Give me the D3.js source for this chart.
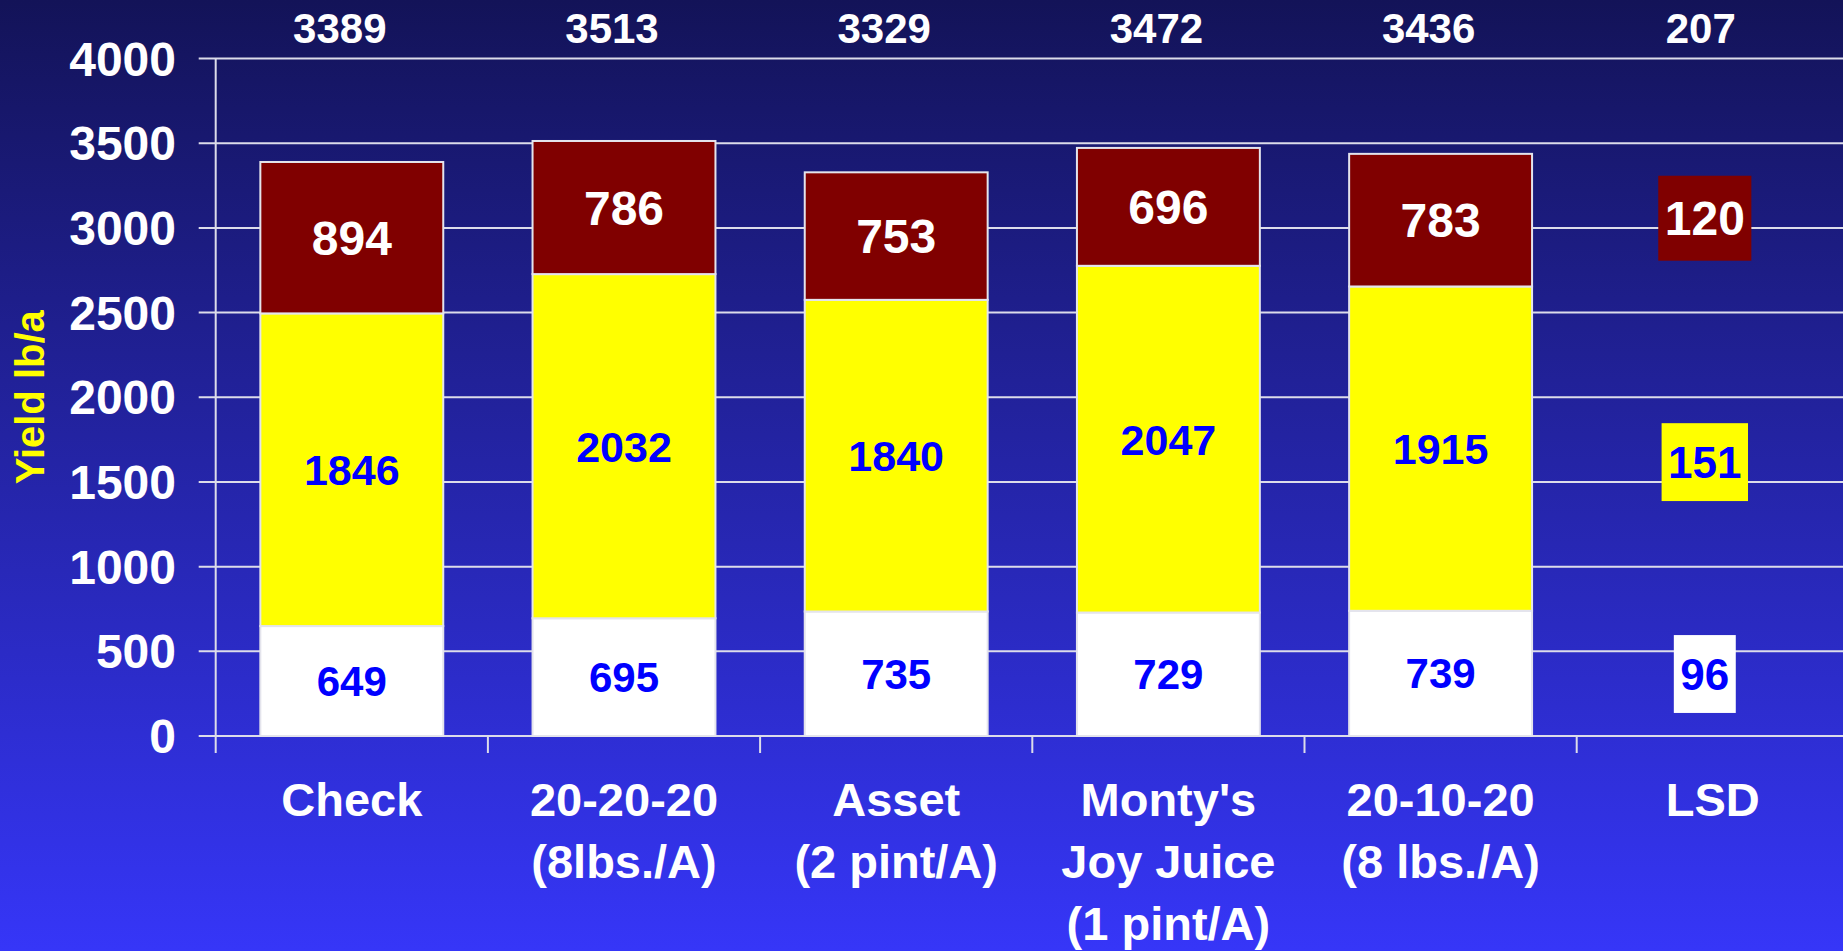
<!DOCTYPE html>
<html>
<head>
<meta charset="utf-8">
<script src="https://cdn.jsdelivr.net/npm/d3@7"></script>
<style>
  html, body { margin: 0; padding: 0; overflow: hidden; background: #141459; }
  svg { display: block; font-family: "Liberation Sans", Arial, sans-serif; font-weight: bold; }
</style>
</head>
<body>
<svg id="chart"></svg>
<script>
// categories and their label lines
const categories = ["Check", "20-20-20", "Asset", "Monty's", "20-10-20", "LSD"];
const catLines = [
  ["Check"],
  ["20-20-20", "(8lbs./A)"],
  ["Asset", "(2 pint/A)"],
  ["Monty's", "Joy Juice", "(1 pint/A)"],
  ["20-10-20", "(8 lbs./A)"],
  ["LSD"]
];

// yield lb/a, stacked from bottom to top
const lowVals = [649, 695, 735, 729, 739];
const midVals = [1846, 2032, 1840, 2047, 1915];
const topVals = [894, 786, 753, 696, 783];
const totals = [3389, 3513, 3329, 3472, 3436, 207];

// LSD for each layer (low, mid, top) and the yield level where each box sits
const lsdVals = [96, 151, 120];
const lsdAt = [366, 1617, 3057];

const yTicks = [0, 500, 1000, 1500, 2000, 2500, 3000, 3500, 4000];

// dimensions
const W = 1843, H = 951;
const axisX = 215.7, step = 272.2;

// couleurs des couches
const fills = ["#ffffff", "#ffff00", "#800000"];
const textFill = ["#0000ff", "#0000ff", "#ffffff"];
const labelSize = [42, 43, 48];
const lsdSize = [44, 44, 48];

const svg = d3.select("#chart").attr("width", W).attr("height", H);

const grad = svg.append("defs").append("linearGradient")
  .attr("id", "bg").attr("x1", 0).attr("y1", 0).attr("x2", 0).attr("y2", 1);
grad.append("stop").attr("offset", "0%").attr("stop-color", "#131358");
grad.append("stop").attr("offset", "100%").attr("stop-color", "#3636f8");
svg.append("rect").attr("width", W).attr("height", H).attr("fill", "url(#bg)");

const x = d3.scaleBand().domain(categories).range([axisX, axisX + step * categories.length]);
const y = d3.scaleLinear().domain([0, 4000]).range([736, 58.5]);

// grid lines (the part left of the axis acts as tick)
svg.append("g").selectAll("line")
  .data(yTicks).enter().append("line")
  .attr("x1", axisX - 17).attr("x2", W)
  .attr("y1", d => y(d)).attr("y2", d => y(d))
  .attr("stroke", "#dcdcea").attr("stroke-width", 2);

// y axis line
svg.append("line")
  .attr("x1", axisX).attr("x2", axisX)
  .attr("y1", y(4000)).attr("y2", y(0) + 17)
  .attr("stroke", "#dcdcea").attr("stroke-width", 2);

// x ticks between categories
svg.append("g").selectAll("line")
  .data(categories.slice(1)).enter().append("line")
  .attr("x1", d => x(d)).attr("x2", d => x(d))
  .attr("y1", y(0)).attr("y2", y(0) + 17)
  .attr("stroke", "#dcdcea").attr("stroke-width", 2);

// y tick labels
svg.append("g").selectAll("text")
  .data(yTicks).enter().append("text")
  .attr("x", 176).attr("y", d => y(d) + 17)
  .attr("text-anchor", "end")
  .attr("font-size", 48).attr("fill", "#ffffff")
  .text(d => d);

// axis title
svg.append("text")
  .attr("transform", "translate(44," + (y(0) + y(4000)) / 2 + ") rotate(-90)")
  .attr("text-anchor", "middle")
  .attr("font-size", 40).attr("fill", "#ffff00")
  .text("Yield lb/a");

// category labels
const catG = svg.append("g").selectAll("text")
  .data(categories).enter().append("text")
  .attr("text-anchor", "middle")
  .attr("font-size", 47).attr("fill", "#ffffff");
catG.selectAll("tspan")
  .data((d, i) => catLines[i].map(t => ({ t: t, c: d })))
  .enter().append("tspan")
  .attr("x", d => x(d.c) + x.bandwidth() / 2)
  .attr("y", (d, j) => 816 + j * 62)
  .text(d => d.t);

// totals on top
svg.append("g").selectAll("text")
  .data(totals).enter().append("text")
  .attr("x", (d, i) => x(categories[i]) + x.bandwidth() / 2 - 12)
  .attr("y", 43)
  .attr("text-anchor", "middle")
  .attr("font-size", 42).attr("fill", "#ffffff")
  .text(d => d);

// stacked bars
const rows = lowVals.map((v, i) => ({ cat: categories[i], low: v, mid: midVals[i], top: topVals[i] }));
const keys = ["low", "mid", "top"];
const stack = d3.stack().keys(keys)(rows);
const barW = x.bandwidth() * 0.672;

const layer = svg.append("g").selectAll("g")
  .data(stack).enter().append("g");

layer.selectAll("rect")
  .data((s, k) => s.map(d => ({ d: d, k: k })))
  .enter().append("rect")
  .attr("x", p => x(p.d.data.cat) + (x.bandwidth() - barW) / 2)
  .attr("width", barW)
  .attr("y", p => y(p.d[1]))
  .attr("height", p => y(p.d[0]) - y(p.d[1]))
  .attr("fill", p => fills[p.k])
  .attr("stroke", "#e4e4ec").attr("stroke-width", 2);

layer.selectAll("text")
  .data((s, k) => s.map(d => ({ d: d, k: k })))
  .enter().append("text")
  .attr("x", p => x(p.d.data.cat) + x.bandwidth() / 2)
  .attr("y", p => (y(p.d[0]) + y(p.d[1])) / 2 + labelSize[p.k] * 0.358)
  .attr("text-anchor", "middle")
  .attr("font-size", p => labelSize[p.k])
  .attr("fill", p => textFill[p.k])
  .text(p => p.d[1] - p.d[0]);

// LSD boxes
const lsdX = x("LSD") + x.bandwidth() / 2 - 8;
const lsdG = svg.append("g").selectAll("g")
  .data(lsdVals).enter().append("g");
const lsdBox = lsdG.append("rect")
  .attr("fill", (d, k) => fills[k]);
const lsdText = lsdG.append("text")
  .attr("x", lsdX)
  .attr("y", (d, k) => y(lsdAt[k]) + lsdSize[k] * 0.358)
  .attr("text-anchor", "middle")
  .attr("font-size", (d, k) => lsdSize[k])
  .attr("fill", (d, k) => textFill[k])
  .text(d => d);
lsdText.each(function (d, k) {
  const w = this.getComputedTextLength() + 13;
  const h = lsdSize[k] * 1.77;
  d3.select(lsdBox.nodes()[k])
    .attr("x", lsdX - w / 2).attr("width", w)
    .attr("y", y(lsdAt[k]) - h / 2).attr("height", h);
});
</script>
</body>
</html>
